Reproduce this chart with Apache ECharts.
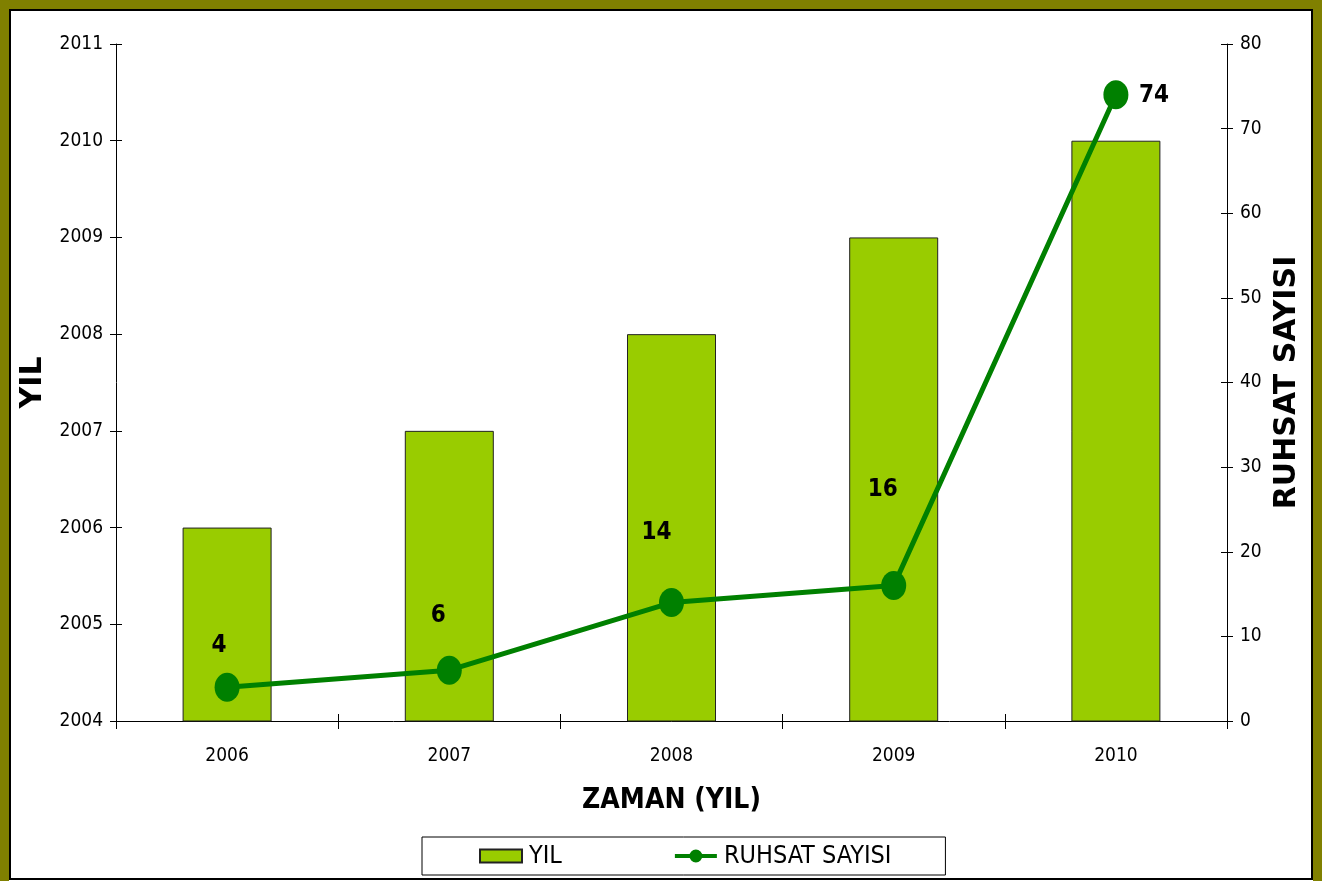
<!DOCTYPE html>
<html>
<head>
<meta charset="utf-8">
<script src="https://cdn.jsdelivr.net/npm/echarts@6/dist/echarts.min.js"></script>
<style>
html,body{margin:0;padding:0;background:#fff;}
#chart{width:1322px;height:881px;}
</style>
</head>
<body>
<div id="chart"></div>
<script>
var categories = ['2006', '2007', '2008', '2009', '2010'];
var yilValues = [2006, 2007, 2008, 2009, 2010];
var ruhsatValues = [4, 6, 14, 16, 74];
var seriesNames = ['YIL', 'RUHSAT SAYISI'];
var xAxisTitle = 'ZAMAN (YIL)';
var leftAxisTitle = 'YIL';
var rightAxisTitle = 'RUHSAT SAYISI';

var FONT = '"DejaVu Sans Condensed", "DejaVu Sans", sans-serif';
var FONT_WIDE = '"DejaVu Sans", sans-serif';
// label offsets (style, Excel-like manual placement)
var labelOffsets = [[-8, -41], [-11, -54], [-15, -70], [-11, -96], [38, 1]];

var lineData = ruhsatValues.map(function (v, i) {
  return { value: v, label: { offset: labelOffsets[i] } };
});

var chart = echarts.init(document.getElementById('chart'), null, { renderer: 'canvas' });

var axisLineStyle = { color: '#000', width: 1 };
var tickLabel = { color: '#000', fontFamily: FONT, fontSize: 19, formatter: function (v) { return String(v); } };
var lineIcon = 'path://M0,4.5 L42,4.5 L42,8.5 L0,8.5 Z M14.5,6.5 A6.5,6.5 0 1,1 27.5,6.5 A6.5,6.5 0 1,1 14.5,6.5 Z';

var option = {
  backgroundColor: '#fff',
  animation: false,
  graphic: [
    { type: 'rect', shape: { x: 4.5, y: 4.5, width: 1313, height: 900 }, style: { fill: null, stroke: '#808000', lineWidth: 9 }, silent: true, z: 100 },
    { type: 'rect', shape: { x: 10, y: 10, width: 1302, height: 869 }, style: { fill: null, stroke: '#000', lineWidth: 2 }, silent: true, z: 100 }
  ],
  grid: { left: 116, right: 95, top: 44, bottom: 160, containLabel: false },
  legend: {
    data: [
      { name: seriesNames[0], icon: 'rect' },
      { name: seriesNames[1], icon: lineIcon, itemStyle: { color: '#008000', borderWidth: 0 } }
    ],
    left: 422,
    top: 837,
    orient: 'horizontal',
    itemWidth: 42,
    itemHeight: 13,
    itemGap: 113,
    padding: [6, 54, 6, 57],
    borderColor: '#000',
    borderWidth: 1,
    textStyle: { color: '#000', fontFamily: FONT, fontSize: 25, lineHeight: 26, padding: [0, 0, 0, 2] }
  },
  xAxis: [
    {
      type: 'category',
      data: categories,
      position: 'bottom',
      boundaryGap: true,
      name: xAxisTitle,
      nameLocation: 'middle',
      nameGap: 66,
      nameTextStyle: { color: '#000', fontFamily: FONT, fontSize: 28, fontWeight: 'bold', verticalAlign: 'top' },
      axisLine: { lineStyle: axisLineStyle },
      axisTick: { show: true, inside: false, length: 8, lineStyle: axisLineStyle },
      axisLabel: Object.assign({ margin: 26 }, tickLabel),
      splitLine: { show: false }
    },
    {
      type: 'category',
      data: categories,
      position: 'bottom',
      boundaryGap: true,
      axisLine: { show: false },
      axisTick: { show: true, inside: true, length: 7, lineStyle: axisLineStyle },
      axisLabel: { show: false },
      splitLine: { show: false }
    }
  ],
  yAxis: [
    {
      type: 'value',
      position: 'left',
      min: 2004, max: 2011, interval: 1,
      name: leftAxisTitle,
      nameLocation: 'middle',
      nameRotate: 90,
      nameGap: 64,
      nameTextStyle: { color: '#000', fontFamily: FONT_WIDE, fontSize: 30, fontWeight: 'bold' },
      axisLine: { show: true, lineStyle: axisLineStyle },
      axisTick: { show: true, inside: false, length: 6, lineStyle: axisLineStyle },
      axisLabel: Object.assign({ margin: 13 }, tickLabel),
      splitLine: { show: false }
    },
    {
      type: 'value',
      position: 'right',
      min: 0, max: 80, interval: 10,
      name: rightAxisTitle,
      nameLocation: 'middle',
      nameRotate: 90,
      nameGap: 38,
      nameTextStyle: { color: '#000', fontFamily: FONT_WIDE, fontSize: 30, fontWeight: 'bold' },
      axisLine: { show: true, lineStyle: axisLineStyle },
      axisTick: { show: true, inside: false, length: 6, lineStyle: axisLineStyle },
      axisLabel: Object.assign({ margin: 13 }, tickLabel),
      splitLine: { show: false }
    },
    {
      type: 'value', position: 'left', min: 2004, max: 2011, interval: 1,
      axisLine: { show: false }, axisLabel: { show: false }, splitLine: { show: false },
      axisTick: { show: true, inside: true, length: 6, lineStyle: axisLineStyle }
    },
    {
      type: 'value', position: 'right', min: 0, max: 80, interval: 10,
      axisLine: { show: false }, axisLabel: { show: false }, splitLine: { show: false },
      axisTick: { show: true, inside: true, length: 6, lineStyle: axisLineStyle }
    }
  ],
  series: [
    {
      name: seriesNames[0],
      type: 'bar',
      xAxisIndex: 0,
      yAxisIndex: 0,
      data: yilValues,
      barWidth: 89,
      clip: true,
      itemStyle: { color: '#99CC00', borderColor: '#222', borderWidth: 1 },
      z: 2
    },
    {
      name: seriesNames[1],
      type: 'line',
      xAxisIndex: 0,
      yAxisIndex: 1,
      data: lineData,
      symbol: 'circle',
      symbolSize: [25, 29],
      lineStyle: { color: '#008000', width: 5 },
      itemStyle: { color: '#008000' },
      label: {
        show: true,
        position: 'inside',
        align: 'center',
        verticalAlign: 'middle',
        color: '#000',
        fontFamily: FONT,
        fontSize: 24,
        fontWeight: 'bold'
      },
      z: 5
    }
  ]
};
chart.setOption(option);
</script>
</body>
</html>
